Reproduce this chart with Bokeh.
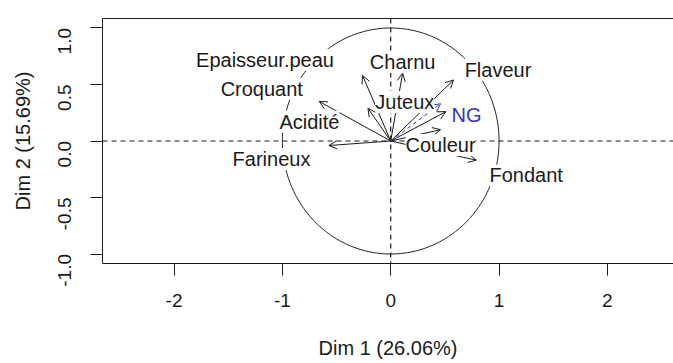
import math
import numpy as np
from bokeh.plotting import figure
from bokeh.models import (Arrow, OpenHead, LabelSet, ColumnDataSource, Span,
                          LinearAxis, FixedTicker, Range1d)
from bokeh.core.properties import value
from bokeh.embed import file_html
from bokeh.resources import INLINE

# Variable coordinates on the first two PCA dimensions
variables = ["Epaisseur.peau", "Charnu", "Flaveur", "Croquant", "Juteux",
             "Acidité", "Couleur", "Farineux", "Fondant"]
dim1 = [-0.26, 0.11, 0.58, -0.66, 0.51, -0.21, 0.46, -0.57, 0.79]
dim2 = [0.58, 0.60, 0.54, 0.35, 0.26, 0.29, 0.10, -0.04, -0.17]

# Supplementary variable
sup_variables = ["NG"]
sup_dim1 = [0.46]
sup_dim2 = [0.33]

# Label placement (data units), spread apart to avoid overlaps
label_x = [-1.16, 0.11, 0.99, -1.19, 0.13, -0.75, 0.46, -1.10, 1.25]
label_y = [0.72, 0.70, 0.63, 0.46, 0.345, 0.17, -0.035, -0.16, -0.305]
sup_label_x = [0.70]
sup_label_y = [0.226]

x_ticks = [-2, -1, 0, 1, 2]
x_tick_labels = ["-2", "-1", "0", "1", "2"]
y_ticks = [-1.0, -0.5, 0.0, 0.5, 1.0]
y_tick_labels = ["-1.0", "-0.5", "0.0", "0.5", "1.0"]

x_title = "Dim 1 (26.06%)"
y_title = "Dim 2 (15.69%)"

FONT = "Liberation Sans"
INK = "#1a1a1a"
BLUE = "#3535c4"

p = figure(width=673, height=363,
           x_range=Range1d(-2.66, 2.61), y_range=Range1d(-1.084, 1.084),
           output_backend="svg", toolbar_location=None,
           min_border_left=102, min_border_right=0,
           min_border_top=18, min_border_bottom=100)
p.grid.visible = False
p.outline_line_color = None
p.background_fill_color = "white"
p.border_fill_color = "white"

# Axes
xa = p.xaxis[0]
xa.ticker = FixedTicker(ticks=x_ticks)
xa.major_label_overrides = {t: s for t, s in zip(x_ticks, x_tick_labels)}
ya = p.yaxis[0]
ya.ticker = FixedTicker(ticks=y_ticks)
ya.major_label_overrides = {t: s for t, s in zip(y_ticks, y_tick_labels)}
ya.major_label_orientation = math.pi / 2

for ax in (xa, ya):
    ax.axis_line_color = INK
    ax.axis_line_width = 1
    ax.major_tick_line_color = INK
    ax.major_tick_out = 12
    ax.major_tick_in = 0
    ax.minor_tick_out = 0
    ax.minor_tick_in = 0
    ax.major_label_text_font = FONT
    ax.major_label_text_font_size = "19px"
    ax.major_label_text_color = INK
    ax.axis_label_text_font = FONT
    ax.axis_label_text_font_size = "20px"
    ax.axis_label_text_font_style = "normal"
    ax.axis_label_text_color = INK

xa.axis_label = x_title
xa.major_label_standoff = 18
xa.axis_label_standoff = 27
ya.axis_label = y_title
ya.major_label_standoff = 26
ya.axis_label_standoff = 15

# Top border of the box
top = LinearAxis(ticker=FixedTicker(ticks=[]), axis_line_color=INK,
                 major_tick_out=0, major_tick_in=0,
                 minor_tick_out=0, minor_tick_in=0,
                 major_label_standoff=0)
p.add_layout(top, "above")

# Dashed reference axes through the origin
p.add_layout(Span(location=0, dimension="width", line_color=INK,
                  line_dash="5 4", line_width=1.2))
p.add_layout(Span(location=0, dimension="height", line_color=INK,
                  line_dash="5 4", line_width=1.2))

# Correlation circle
theta = np.linspace(0, 2 * np.pi, 400)
p.line(np.cos(theta), np.sin(theta), line_color=INK, line_width=1)

# Variable arrows
src = ColumnDataSource(dict(x0=[0.0] * len(variables), y0=[0.0] * len(variables),
                            x1=dim1, y1=dim2))
p.add_layout(Arrow(source=src, x_start="x0", y_start="y0", x_end="x1", y_end="y1",
                   line_color=INK, line_width=1,
                   end=OpenHead(size=8, line_color=INK, line_width=1)))

sup_src = ColumnDataSource(dict(x0=[0.0] * len(sup_variables),
                                y0=[0.0] * len(sup_variables),
                                x1=sup_dim1, y1=sup_dim2))
p.add_layout(Arrow(source=sup_src, x_start="x0", y_start="y0", x_end="x1", y_end="y1",
                   line_color=BLUE, line_width=1, line_dash="4 3",
                   end=OpenHead(size=8, line_color=BLUE, line_width=1)))

# Labels
lab_src = ColumnDataSource(dict(x=label_x, y=label_y, name=variables))
p.add_layout(LabelSet(source=lab_src, x="x", y="y", text="name",
                      text_align="center", text_baseline="middle",
                      text_font=value(FONT), text_font_size="20px",
                      text_color=INK, background_fill_color="white"))

sup_lab_src = ColumnDataSource(dict(x=sup_label_x, y=sup_label_y, name=sup_variables))
p.add_layout(LabelSet(source=sup_lab_src, x="x", y="y", text="name",
                      text_align="center", text_baseline="middle",
                      text_font=value(FONT), text_font_size="20px",
                      text_color=BLUE, background_fill_color="white"))

open("out.html", "w").write(file_html(p, INLINE))
